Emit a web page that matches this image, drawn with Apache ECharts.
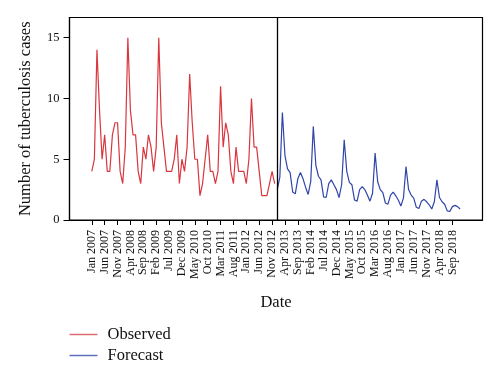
<!DOCTYPE html>
<html>
<head>
<meta charset="utf-8">
<script src="https://cdn.jsdelivr.net/npm/echarts@6/dist/echarts.min.js"></script>
<style>html,body{margin:0;padding:0;background:#fff;}#c{width:500px;height:383px;}</style>
</head>
<body>
<div id="c"></div>
<script>
// Month index 0 = Jan 2007
const tickLabels = ["Jan 2007","Jun 2007","Nov 2007","Apr 2008","Sep 2008","Feb 2009","Jul 2009","Dec 2009","May 2010","Oct 2010","Mar 2011","Aug 2011","Jan 2012","Jun 2012","Nov 2012","Apr 2013","Sep 2013","Feb 2014","Jul 2014","Dec 2014","May 2015","Oct 2015","Mar 2016","Aug 2016","Jan 2017","Jun 2017","Nov 2017","Apr 2018","Sep 2018"];
const tickMonths = [0,5,10,15,20,25,30,35,40,45,50,55,60,65,70,75,80,85,90,95,100,105,110,115,120,125,130,135,140];
const yTicks = [0,5,10,15];
const observed = [4,5,14,9,5,7,4,4,7,8,8,4,
  3,6,15,9,7,7,4,3,6,5,7,6,
  4,6,15,8,6,4,4,4,5,7,3,5,
  4,6,12,8,5,5,2,3,5,7,4,4,
  3,4,11,6,8,7,4,3,6,4,4,4,
  3,5,10,6,6,4,2,2,2,3,4,3];
const forecast = [2.5,3.5,8.85,5.3,4.2,3.9,2.3,2.15,3.4,3.9,3.4,2.7,
  2.1,3.15,7.7,4.5,3.6,3.3,1.9,1.85,3.0,3.3,2.9,2.5,
  1.85,2.9,6.6,4.0,3.1,2.9,1.65,1.55,2.5,2.75,2.5,2.05,
  1.55,2.2,5.5,3.15,2.5,2.25,1.4,1.3,2.05,2.3,2.0,1.65,
  1.15,1.8,4.4,2.5,2.05,1.8,1.05,0.95,1.55,1.7,1.5,1.25,
  0.9,1.5,3.3,1.85,1.5,1.3,0.75,0.7,1.1,1.2,1.1,0.9];
const observedStart = 0;
const forecastStart = 72;
const seriesNames = ["Observed","Forecast"];

const obsData = observed.map((v,i)=>[observedStart+i, v]);
const fcData = forecast.map((v,i)=>[forecastStart+i, v]);
const FONT = '"Liberation Serif", "DejaVu Serif", serif';
const chart = echarts.init(document.getElementById('c'), null, {renderer:'canvas'});
chart.setOption({
  animation:false,
  backgroundColor:'#fff',
  textStyle:{fontFamily:FONT},
  grid:{left:69.5, right:17.5, top:17.5, bottom:163, show:true, borderColor:'#000', borderWidth:1.2, containLabel:false},
  xAxis:{
    type:'value', min:-8.66, max:151.7,
    name:'Date', nameLocation:'middle', nameGap:74,
    nameTextStyle:{fontFamily:FONT, fontSize:16.5, color:'#111'},
    axisLine:{show:true, onZero:false, lineStyle:{color:'#000', width:1.2}},
    axisTick:{show:true, customValues:tickMonths, length:5, lineStyle:{color:'#000', width:1}},
    axisLabel:{customValues:tickMonths, rotate:90, margin:10, fontFamily:FONT, fontSize:12, color:'#111',
      formatter:(v)=>{const i=tickMonths.indexOf(Math.round(v)); return i>=0?tickLabels[i]:'';}},
    splitLine:{show:false}
  },
  yAxis:{
    type:'value', min:0, max:16.66,
    name:'Number of tuberculosis cases', nameLocation:'middle', nameGap:35, nameRotate:90,
    nameTextStyle:{fontFamily:FONT, fontSize:16.5, color:'#111'},
    axisLine:{show:true, onZero:false, lineStyle:{color:'#000', width:1.2}},
    axisTick:{show:true, customValues:yTicks, length:6, lineStyle:{color:'#000', width:1}},
    axisLabel:{customValues:yTicks, margin:10, fontFamily:FONT, fontSize:12.5, color:'#111'},
    splitLine:{show:false}
  },
  legend:{
    orient:'vertical', left:69.5, top:326, padding:0, itemWidth:28, itemHeight:1.5, itemGap:4, icon:'rect',
    textStyle:{fontFamily:FONT, fontSize:16.5, color:'#111', padding:[0,0,0,5]},
    data:seriesNames
  },
  series:[
    {name:seriesNames[0], type:'line', data:obsData, symbol:'none', color:'#d9363e',
     itemStyle:{color:'#dd6a6e'},
     lineStyle:{width:1.2, color:'#d9363e'}},
    {name:seriesNames[1], type:'line', data:fcData, symbol:'none', color:'#2f45a8',
     itemStyle:{color:'#5e6fb8'},
     lineStyle:{width:1.2, color:'#2f45a8'},
     markLine:{silent:true, symbol:['none','none'], label:{show:false},
       lineStyle:{color:'#000', width:1.3, type:'solid'},
       data:[{xAxis:forecastStart}]}}
  ]
});
</script>
</body>
</html>
